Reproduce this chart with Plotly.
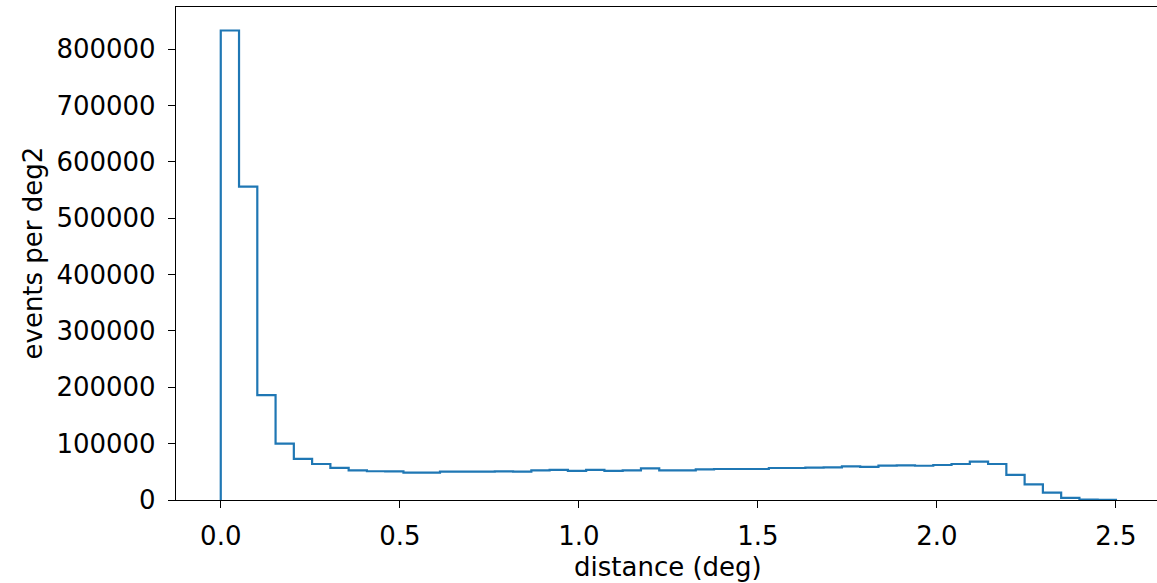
import numpy as np
import plotly.graph_objects as go

# Histogram: 49 bins between 0 and 2.5 deg
bin_lo = 0.0
bin_hi = 2.5
n_bins = 49
counts = [
    833000, 556000, 186000, 100000, 73000, 63900, 57000, 52700, 51000, 50900,
    48700, 48700, 50300, 50500, 50500, 50900, 50300, 52700, 53600, 51500,
    53600, 51500, 52700, 56000, 52700, 52700, 54500, 55000, 55000, 55000,
    56800, 56800, 57400, 58000, 59800, 58600, 60900, 61500, 60800, 62100,
    63900, 68000, 63900, 44400, 27800, 13000, 3800, 600, 100,
]

x_ticks = [0.0, 0.5, 1.0, 1.5, 2.0, 2.5]
x_ticktext = ["0.0", "0.5", "1.0", "1.5", "2.0", "2.5"]
y_ticks = [0, 100000, 200000, 300000, 400000, 500000, 600000, 700000, 800000]
y_ticktext = [str(v) for v in y_ticks]
x_title = "distance (deg)"
y_title = "events per deg2"

edges = np.linspace(bin_lo, bin_hi, n_bins + 1)
xs = [edges[0]] + list(edges)
ys = [0] + list(counts) + [0]

FONT = "DejaVu Sans"
fs = 26

fig = go.Figure()
fig.add_trace(go.Scatter(
    x=xs, y=ys, mode="lines", line=dict(color="#1f77b4", width=2.2, shape="hv"),
    showlegend=False, hoverinfo="skip",
))

fig.update_layout(
    width=1157, height=583,
    margin=dict(l=176, r=0, t=7, b=83, autoexpand=False),
    paper_bgcolor="white", plot_bgcolor="white",
    font=dict(family=FONT, size=fs, color="black"),
    showlegend=False,
)
fig.update_xaxes(
    range=[-0.125, 2.6146], showgrid=False, zeroline=False, automargin=False,
    showline=True, linecolor="black", linewidth=1.3, mirror=True,
    ticks="outside", ticklen=7, tickwidth=1.3, tickcolor="black",
    tickvals=x_ticks, ticktext=x_ticktext, ticklabelstandoff=6,
)
fig.update_yaxes(
    range=[0, 874650], showgrid=False, zeroline=False, automargin=False,
    showline=True, linecolor="black", linewidth=1.3, mirror=False,
    ticks="outside", ticklen=7, tickwidth=1.3, tickcolor="black",
    tickvals=y_ticks, ticktext=y_ticktext, ticklabelstandoff=7,
)
fig.add_annotation(
    text=x_title, xref="paper", yref="paper", x=0.502, y=0,
    xanchor="center", yanchor="middle", yshift=-67, showarrow=False,
    font=dict(family=FONT, size=fs, color="black"),
)
fig.add_annotation(
    text=y_title, xref="paper", yref="paper", x=0, y=0.5,
    xanchor="center", yanchor="middle", xshift=-144, textangle=-90,
    showarrow=False, font=dict(family=FONT, size=fs, color="black"),
)

fig.write_html(
    "out.html",
    config={"displayModeBar": False},
    post_script="document.body.style.margin='0';document.body.style.overflow='hidden';",
)
